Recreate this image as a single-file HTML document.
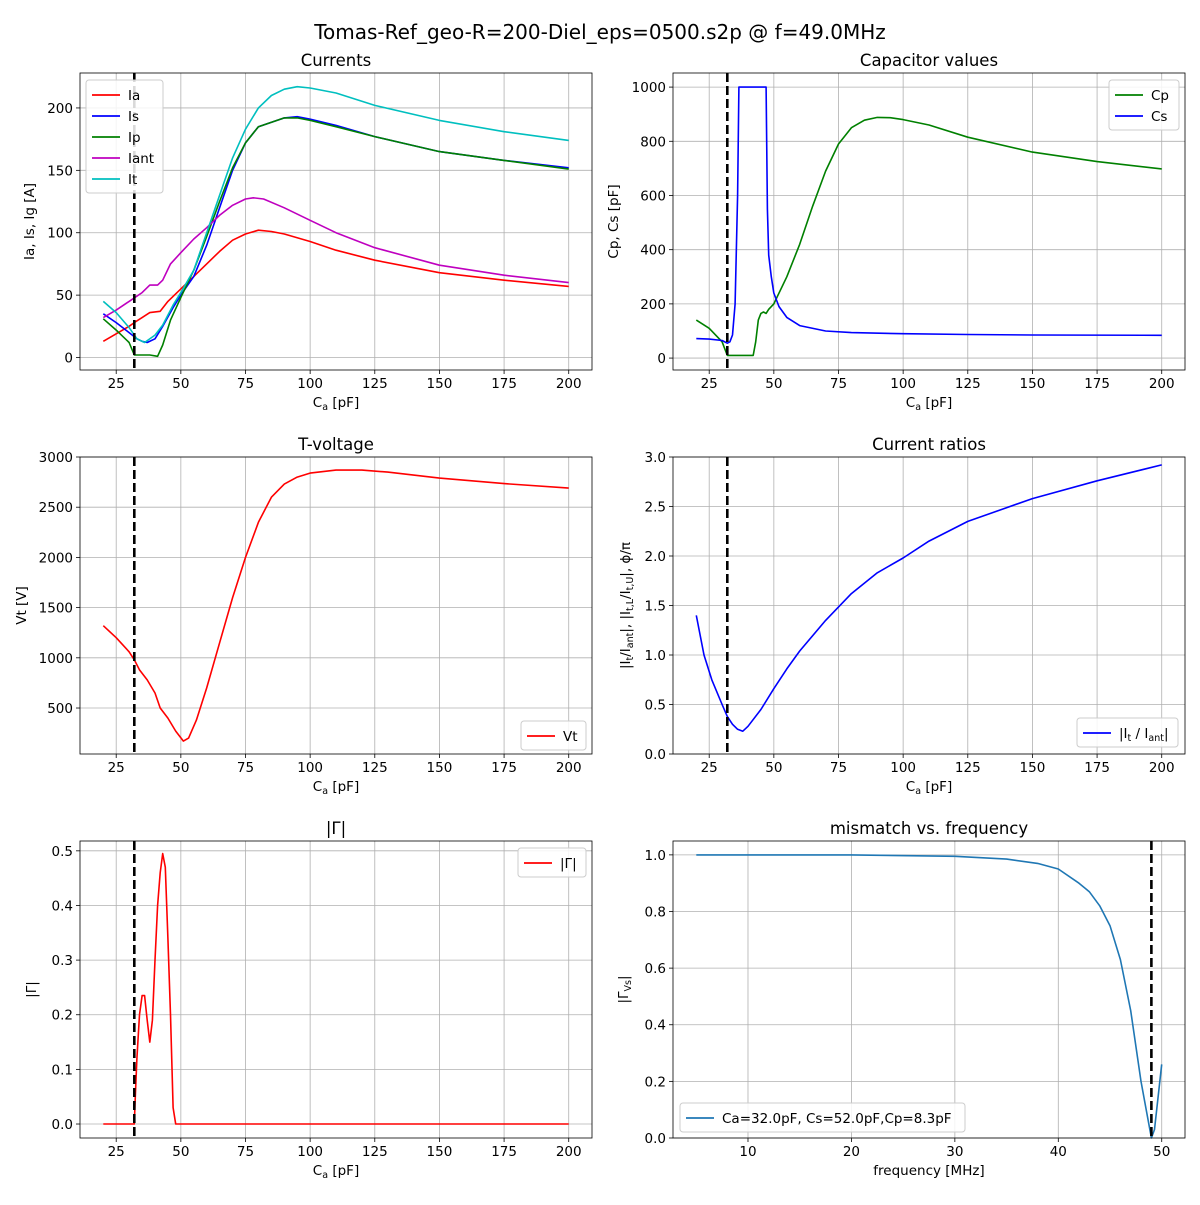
<!DOCTYPE html>
<html><head><meta charset="utf-8"><style>
body{margin:0;background:#fff;}
svg{font-family:"DejaVu Sans","Liberation Sans",sans-serif;}
</style></head><body>
<svg id="fig" width="1200" height="1200" viewBox="0 0 1200 1200">
<rect width="1200" height="1200" fill="#fff"/>
<text x="600" y="39" font-size="20" text-anchor="middle">Tomas-Ref_geo-R=200-Diel_eps=0500.s2p @ f=49.0MHz</text>
</svg>
<script>
// ---- data ----
const iaX=[20,25,30,32,35,38,42,45,50,55,60,65,70,75,80,85,90,100,110,125,150,175,200];
const iaY=[13,19,25,28,32,36,37,45,55,65,75,85,94,99,102,101,99,93,86,78,68,62,57];
const isX=[20,25,30,33,35,37,40,43,47,50,55,60,65,70,75,80,90,95,100,110,125,150,175,200];
const isY=[35,28,20,15,13,12,15,25,40,50,65,90,120,150,172,185,192,193,191,186,177,165,158,152];
const ipX=[20,25,30,32,35,38,41,43,46,50,55,60,65,70,75,80,90,95,100,110,125,150,175,200];
const ipY=[31,22,12,2,2,2,1,10,30,48,70,97,125,152,172,185,192,192,190,185,177,165,158,151];
const iantX=[20,25,30,35,38,41,43,46,50,55,60,65,70,75,78,82,90,100,110,125,150,175,200];
const iantY=[32,38,45,52,58,58,62,75,84,95,104,114,122,127,128,127,120,110,100,88,74,66,60];
const itX=[20,25,30,33,36,40,43,47,50,55,60,65,70,75,80,85,90,95,100,110,125,150,175,200];
const itY=[45,36,24,15,12,18,26,42,52,70,100,130,160,183,200,210,215,217,216,212,202,190,181,174];
const cpX=[20,25,30,32,35,40,42,43,44,45,46,47,48,50,55,60,65,70,75,80,85,90,95,100,110,125,150,175,200];
const cpY=[140,110,60,10,10,10,10,60,140,165,170,165,180,200,300,420,560,690,790,850,878,888,887,880,860,815,760,725,698];
const csX=[20,25,30,32,33,34,35,36,36.5,47,47.5,48,49,50,52,55,60,70,80,100,125,150,200];
const csY=[72,70,65,55,60,85,200,600,1000,1000,550,380,300,240,190,150,120,100,94,90,87,85,84];
const vtX=[20,25,30,32,34,37,40,42,45,48,51,53,56,60,65,70,75,80,85,90,95,100,110,120,130,150,175,200];
const vtY=[1320,1200,1060,980,880,780,650,500,400,270,170,200,380,700,1150,1600,2000,2350,2600,2730,2800,2840,2870,2870,2850,2790,2735,2690];
const rtX=[20,23,26,30,32,34,36,38,40,45,50,55,60,70,80,90,100,110,125,150,175,200];
const rtY=[1.4,1.0,0.75,0.5,0.38,0.3,0.25,0.23,0.28,0.45,0.66,0.86,1.04,1.35,1.62,1.83,1.98,2.15,2.35,2.58,2.76,2.92];
const gX=[20,32,32.4,33,34,35,36,37,38,39,40,41,42,43,44,45,46,47,48,200];
const gY=[0,0,0.05,0.12,0.2,0.235,0.235,0.19,0.15,0.19,0.3,0.4,0.46,0.495,0.47,0.34,0.2,0.03,0,0];
const fX=[5,10,20,30,35,38,40,42,43,44,45,46,47,48,49,49.3,50];
const fY=[1,1,1,0.995,0.985,0.97,0.95,0.9,0.87,0.82,0.75,0.63,0.45,0.2,0.0,0.03,0.26];
const caTicks=[25,50,75,100,125,150,175,200];
const fTicks=[10,20,30,40,50];
const ytCur=[0,50,100,150,200];
const ytCap=[0,200,400,600,800,1000];
const ytVt=[500,1000,1500,2000,2500,3000];
const ytRt=[0,0.5,1,1.5,2,2.5,3];
const ytG=[0,0.1,0.2,0.3,0.4,0.5];
const ytF=[0,0.2,0.4,0.6,0.8,1.0];

const NS="http://www.w3.org/2000/svg";
const svg=document.getElementById('fig');
function mk(tag,attrs,parent,text){const e=document.createElementNS(NS,tag);for(const k in attrs)e.setAttribute(k,attrs[k]);if(text!==undefined)e.textContent=text;(parent||svg).appendChild(e);return e;}

function axes(o){
  const g=mk('g',{});
  
  
  const sx=v=>o.x0+(v-o.xl[0])/(o.xl[1]-o.xl[0])*o.w;
  const sy=v=>o.y0+o.h-(v-o.yl[0])/(o.yl[1]-o.yl[0])*o.h;
  o.xt.forEach(t=>{const X=sx(t);
    mk('line',{x1:X,x2:X,y1:o.y0,y2:o.y0+o.h,stroke:'#b0b0b0','stroke-width':0.8},g);
    mk('line',{x1:X,x2:X,y1:o.y0+o.h,y2:o.y0+o.h+4,stroke:'#000','stroke-width':0.8},g);
    const tl=mk('text',{x:X,y:o.y0+o.h+18,'font-size':13.5,'text-anchor':'middle'},g,String(t));
    
    });
  o.yt.forEach(t=>{const Y=sy(t);
    mk('line',{x1:o.x0,x2:o.x0+o.w,y1:Y,y2:Y,stroke:'#b0b0b0','stroke-width':0.8},g);
    mk('line',{x1:o.x0-4,x2:o.x0,y1:Y,y2:Y,stroke:'#000','stroke-width':0.8},g);
    const tl=mk('text',{x:o.x0-7,y:Y+5,'font-size':13.5,'text-anchor':'end'},g,o.yfmt?o.yfmt(t):String(t));
    
    });
  o.series.forEach(s=>{
    const d=s.x.map((v,i)=>(i?'L':'M')+sx(v).toFixed(1)+','+sy(s.y[i]).toFixed(1)).join('');
    const p=mk('path',{d:d,fill:'none',stroke:s.c,'stroke-width':1.6,'stroke-linejoin':'round'},g);
    
    });
  const vx=sx(o.vline);
  const vl=mk('line',{x1:vx,x2:vx,y1:o.y0,y2:o.y0+o.h,stroke:'#000','stroke-width':2.6,'stroke-dasharray':'9,4'},g);
  
  
  mk('rect',{x:o.x0,y:o.y0,width:o.w,height:o.h,fill:'none',stroke:'#000','stroke-width':0.8},g);
  const tt=mk('text',{x:o.x0+o.w/2,y:o.y0-7,'font-size':16.5,'text-anchor':'middle'},g,o.title);
  
  
  const xl=mk('text',{x:o.x0+o.w/2,y:o.y0+o.h+37,'font-size':13.5,'text-anchor':'middle'},g);
  xl.innerHTML=o.xlabel;
  
  
  const yl=mk('text',{x:0,y:0,'font-size':13.5,'text-anchor':'middle',transform:`translate(${o.ylx},${o.y0+o.h/2}) rotate(-90)`},g);
  yl.innerHTML=o.ylabel;
  
  
  const L=o.leg;
  const lg=mk('g',{},g);
  
  
  mk('rect',{x:L.x,y:L.y,width:L.w,height:o.series.length*21+8,rx:3,fill:'#fff','fill-opacity':0.85,stroke:'#ccc','stroke-width':1},lg);
  o.series.forEach((s,i)=>{const Y=L.y+15+i*21;
    mk('line',{x1:L.x+6,x2:L.x+34,y1:Y,y2:Y,stroke:s.c,'stroke-width':1.8},lg);
    const t=mk('text',{x:L.x+42,y:Y+5,'font-size':13.5},lg);t.innerHTML=s.label;
    
    });
}
const caXL=[11,209];
const caLab='C<tspan font-size="9.5" dy="3">a</tspan><tspan dy="-3"> [pF]</tspan>';
axes({name:'currents-chart',x0:80,y0:73,w:512,h:297,xl:caXL,yl:[-10,228],xt:caTicks,yt:ytCur,vline:32,title:'Currents',xlabel:caLab,ylabel:'Ia, Is, Ig [A]',ylx:34,
 leg:{x:86,y:80,w:77},
 series:[{n:'ia',label:'Ia',x:iaX,y:iaY,c:'#ff0000'},{n:'is',label:'Is',x:isX,y:isY,c:'#0000ff'},{n:'ip',label:'Ip',x:ipX,y:ipY,c:'#008000'},{n:'iant',label:'Iant',x:iantX,y:iantY,c:'#bf00bf'},{n:'it',label:'It',x:itX,y:itY,c:'#00bfbf'}]});
axes({name:'capacitor-chart',x0:673,y0:73,w:512,h:297,xl:caXL,yl:[-44,1052],xt:caTicks,yt:ytCap,vline:32,title:'Capacitor values',xlabel:caLab,ylabel:'Cp, Cs [pF]',ylx:618,
 leg:{x:1109,y:80,w:70},
 series:[{n:'cp',label:'Cp',x:cpX,y:cpY,c:'#008000'},{n:'cs',label:'Cs',x:csX,y:csY,c:'#0000ff'}]});
axes({name:'t-voltage-chart',x0:80,y0:457,w:512,h:297,xl:caXL,yl:[42,3000],xt:caTicks,yt:ytVt,vline:32,title:'T-voltage',xlabel:caLab,ylabel:'Vt [V]',ylx:26,
 leg:{x:521,y:721,w:65},
 series:[{n:'vt',label:'Vt',x:vtX,y:vtY,c:'#ff0000'}]});
axes({name:'current-ratios-chart',x0:673,y0:457,w:512,h:297,xl:caXL,yl:[0,3],xt:caTicks,yt:ytRt,yfmt:v=>v.toFixed(1),vline:32,title:'Current ratios',xlabel:caLab,
 ylabel:'|I<tspan font-size="9.5" dy="3">t</tspan><tspan dy="-3">/I</tspan><tspan font-size="9.5" dy="3">ant</tspan><tspan dy="-3">|, |I</tspan><tspan font-size="9.5" dy="3">t,L</tspan><tspan dy="-3">/I</tspan><tspan font-size="9.5" dy="3">t,U</tspan><tspan dy="-3">|, ϕ/π</tspan>',ylx:630,
 leg:{x:1077,y:718,w:101},
 series:[{n:'ratio',label:'|I<tspan font-size="9.5" dy="3">t</tspan><tspan dy="-3"> / I</tspan><tspan font-size="9.5" dy="3">ant</tspan><tspan dy="-3">|</tspan>',x:rtX,y:rtY,c:'#0000ff'}]});
axes({name:'gamma-chart',x0:80,y0:841,w:512,h:297,xl:caXL,yl:[-0.0256,0.518],xt:caTicks,yt:ytG,yfmt:v=>v.toFixed(1),vline:32,title:'|Γ|',xlabel:caLab,ylabel:'|Γ|',ylx:36,
 leg:{x:518,y:848,w:68},
 series:[{n:'gamma',label:'|Γ|',x:gX,y:gY,c:'#ff0000'}]});
axes({name:'mismatch-chart',x0:673,y0:841,w:512,h:297,xl:[2.75,52.25],yl:[0,1.049],xt:fTicks,yt:ytF,yfmt:v=>v.toFixed(1),vline:49,title:'mismatch vs. frequency',xlabel:'frequency [MHz]',
 ylabel:'|Γ<tspan font-size="9.5" dy="3">Vs</tspan><tspan dy="-3">|</tspan>',ylx:628,
 leg:{x:680,y:1103,w:285},
 series:[{n:'mismatch',label:'Ca=32.0pF, Cs=52.0pF,Cp=8.3pF',x:fX,y:fY,c:'#1f77b4'}]});
</script>
</body></html>
